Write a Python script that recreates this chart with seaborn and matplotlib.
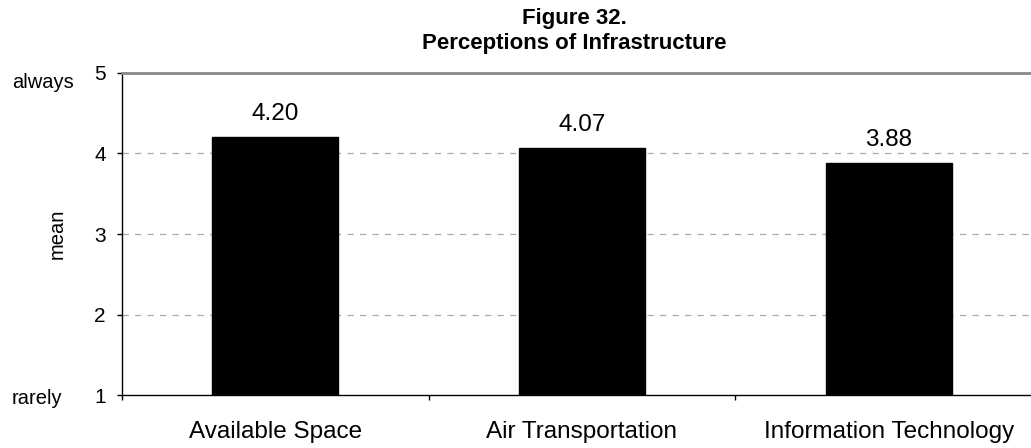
import matplotlib
matplotlib.use("Agg")
import matplotlib.pyplot as plt
import seaborn as sns
import pandas as pd

categorias = ["Available Space", "Air Transportation", "Information Technology"]
medias = [4.20, 4.07, 3.88]
ticks_y = [1, 2, 3, 4, 5]
titulo = "Figure 32.\nPerceptions of Infrastructure"

sns.set_theme(style="white")
plt.rcParams['font.family'] = ['Liberation Sans', 'DejaVu Sans']
plt.rcParams['text.color'] = 'black'
plt.rcParams['axes.labelcolor'] = 'black'
plt.rcParams['xtick.color'] = 'black'
plt.rcParams['ytick.color'] = 'black'

df = pd.DataFrame({"categoria": categorias, "media": medias})

fig = plt.figure(figsize=(10.31, 4.48), dpi=100)
ax = fig.add_axes([122 / 1031, 1 - 395 / 448, 920 / 1031, 322 / 448])

sns.barplot(data=df, x="categoria", y="media", color="black", width=0.41,
            saturation=1, edgecolor="black", ax=ax, zorder=3)

ax.set_ylim(1, 5)
ax.set_xlim(-0.5, len(categorias) - 0.5)
ax.set_yticks(ticks_y)
ax.set_yticklabels([str(t) for t in ticks_y], fontsize=15)

# lineas de cuadricula discontinuas
for t in ticks_y[1:-1]:
    ax.axhline(t, color="#aaaaaa", linestyle=(0, (5, 5)), linewidth=0.9, zorder=1)

for s in ["left", "bottom"]:
    ax.spines[s].set_color("black")
    ax.spines[s].set_linewidth(1.0)
ax.spines["top"].set_color("#888888")
ax.spines["top"].set_linewidth(2)
ax.spines["right"].set_visible(False)

ax.tick_params(axis="y", direction="out", length=3.6, width=1, pad=8, left=True)
ax.tick_params(axis="x", which="major", length=0, pad=19, labelsize=17.5)
ax.set_xticks([i - 0.5 for i in range(len(categorias) + 1)], minor=True)
ax.tick_params(axis="x", which="minor", direction="out", length=3.6, width=1, bottom=True)

ax.set_xlabel("")
ax.set_ylabel("mean", fontsize=14.5, va="center")
ax.yaxis.set_label_coords(-0.0707, 0.5)

for i, v in enumerate(medias):
    ax.text(i, v + 0.21, f"{v:.2f}", ha="center", va="baseline", fontsize=17.5)

fig.text(12 / 1031, 1 - 82 / 448, "always", fontsize=14.5, ha="left", va="center")
fig.text(12 / 1031, 1 - 398 / 448, "rarely", fontsize=14.5, ha="left", va="center")

fig.text(574 / 1031, 1 - 31 / 448, titulo, fontsize=16, fontweight="bold",
         ha="center", va="center", linespacing=1.2)

plt.savefig("out.png", dpi=100)
